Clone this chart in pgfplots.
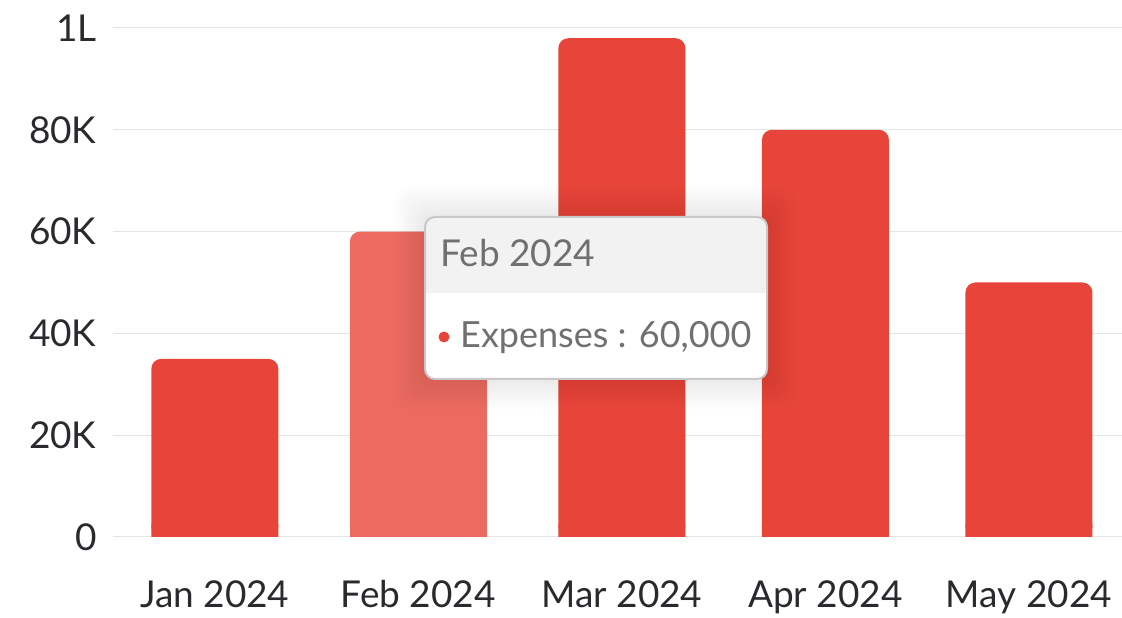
\documentclass[border=0pt]{standalone}
\usepackage{pgfplots}
\pgfplotsset{compat=1.18}
\usepackage{fontspec}
\setmainfont{Lato}
\definecolor{barred}{HTML}{E8453A}
\definecolor{barlight}{HTML}{EC6A60}
\definecolor{ttgray}{HTML}{707070}
\definecolor{ttborder}{HTML}{C8C8C8}
\definecolor{tthead}{HTML}{F2F2F2}
\definecolor{labcol}{HTML}{2A2A2E}
\definecolor{gridc}{HTML}{E5E5E5}
\begin{document}
\begin{tikzpicture}[x=1pt,y=1pt]
\path[use as bounding box] (0,0) rectangle (1122,618);
\begin{axis}[
  scale only axis, width=1009pt, height=509pt,
  at={(113pt,81pt)}, anchor=south west,
  xmin=-0.5, xmax=4.457, ymin=0, ymax=100000,
  axis line style={draw=none},
  major tick length=0pt,
  ymajorgrids, grid style={gridc, line width=1pt},
  ytick={0,20000,40000,60000,80000,100000},
  yticklabels={0,20K,40K,60K,80K,1L},
  scaled y ticks=false,
  xtick={0,1,2,3,4},
  xticklabels={Jan 2024,Feb 2024,Mar 2024,Apr 2024,May 2024},
  tick label style={font=\fontsize{37}{40}\selectfont, text=labcol},
  /pgf/number format/assume math mode=true,
  yticklabel style={xshift=-13pt},
  xticklabel style={yshift=-40pt},
  clip=false,
]
% square bottoms (drawn first, hidden under the rounded bars)
\addplot[ybar, bar width=127pt, bar shift=0pt, fill=barred, draw=none]
  coordinates {(0,2500) (2,2500) (3,2500) (4,2500)};
\addplot[ybar, bar width=137pt, bar shift=0pt, fill=barlight, draw=none]
  coordinates {(1,2500)};
% expenses (Jan, Mar, Apr, May)
\addplot[ybar, bar width=127pt, bar shift=0pt, fill=barred, draw=none, rounded corners=10pt]
  coordinates {(0,35000) (2,98000) (3,80000) (4,50000)};
% expenses (Feb, hovered)
\addplot[ybar, bar width=137pt, bar shift=0pt, fill=barlight, draw=none, rounded corners=10pt]
  coordinates {(1,60000)};
\end{axis}
% tooltip
\foreach \i in {1,...,10} {
  \fill[black, opacity=0.008, rounded corners=14pt] (425-3*\i, 239-3*\i) rectangle (767+3*\i, 401+3*\i);
}
\fill[white, rounded corners=10pt] (425,239) rectangle (767,401);
\begin{scope}
  \clip[rounded corners=10pt] (425,239) rectangle (767,401);
  \fill[tthead] (425,325) rectangle (767,401);
\end{scope}
\draw[ttborder, line width=2pt, rounded corners=10pt] (425,239) rectangle (767,401);
\node[anchor=base west, text=ttgray, font=\fontsize{37}{40}\selectfont, inner sep=0] at (440,351) {Feb 2024};
\fill[barred] (444,281) circle (5.5);
\node[anchor=base west, text=ttgray, font=\fontsize{36}{40}\selectfont, inner sep=0] at (460,270) {Expenses : 60,000};
\end{tikzpicture}
\end{document}
